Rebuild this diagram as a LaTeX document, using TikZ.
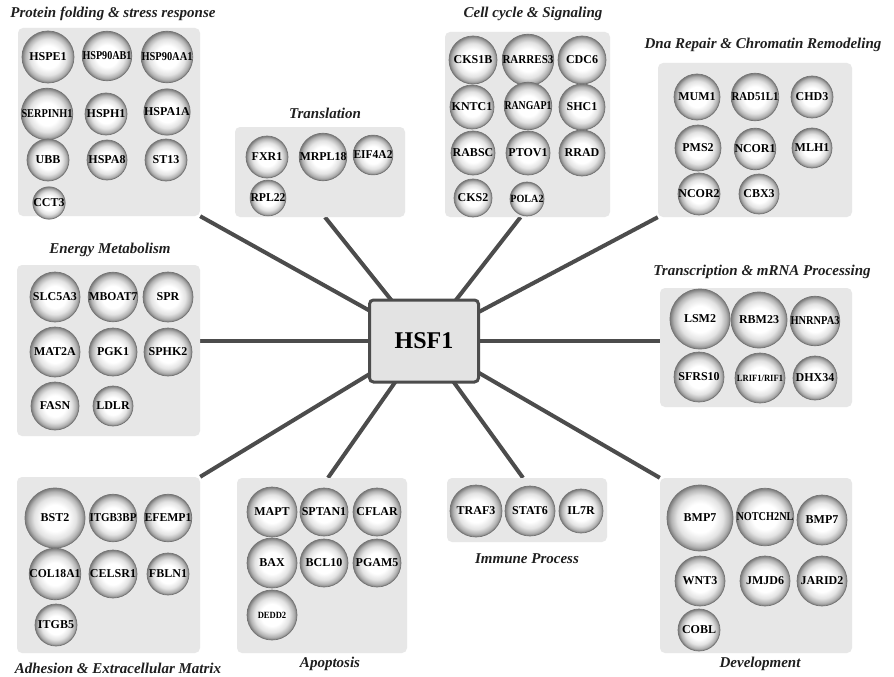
\documentclass[tikz,border=0pt]{standalone}
\usepackage{fontspec}
\setmainfont{Liberation Serif}
\usetikzlibrary{calc,backgrounds}

% soft sphere shading for the gene discs (the disc rim sits at 25bp)
\pgfdeclareradialshading{genesphere}{\pgfpoint{0bp}{0bp}}{%
  color(0bp)=(white); color(11bp)=(white); color(17.5bp)=(black!11);
  color(22bp)=(black!30); color(25bp)=(black!52); color(50bp)=(black!52)}

\definecolor{panelgray}{HTML}{E7E7E7}
\definecolor{wire}{HTML}{4C4C4C}

% squeeze a label horizontally when it is wider than #1
\newdimen\labmax
\newcommand\fitlab[2]{\labmax=\dimexpr#1\relax\sbox0{#2}%
  \ifdim\wd0>\labmax\resizebox{\labmax}{\height}{#2}\else\usebox0\fi}

\newcommand\genefont{\fontsize{12}{12}\selectfont\bfseries}
% \genecircle[opts]{name}{x}{y}{radius}{label}
\newcommand\genecircle[6][]{%
  \node[genenode, minimum size=2*#5pt, #1] (#2) at (#3,#4) {\fitlab{#5pt*2+1pt}{#6}};}

\tikzset{
  genenode/.style={circle, draw=black!55, line width=0.7pt, shading=genesphere,
    inner sep=0pt, text=black, font=\genefont},
  panel/.style={fill=panelgray, rounded corners=5pt, inner sep=0pt, draw=none},
  grouptitle/.style={font=\fontsize{15}{15}\selectfont\bfseries\itshape, text=black!88, inner sep=0pt},
  wireline/.style={draw=wire, line width=4pt},
  hub/.style={draw=wire, line width=3pt, fill=black!11, rounded corners=4pt,
    minimum width=109pt, minimum height=82pt, font=\fontsize{24}{24}\selectfont\bfseries}
}

\begin{document}
\begin{tikzpicture}[x=1pt, y=-1pt]
\path[use as bounding box] (0,0) rectangle (894,677);

% ---- group panels ----
\node[panel, minimum width=182pt, minimum height=188pt] (pf) at (109,122) {};
\node[panel, minimum width=170pt, minimum height=90pt]  (tl) at (320,172) {};
\node[panel, minimum width=165pt, minimum height=185pt] (cc) at (527.5,124.5) {};
\node[panel, minimum width=194pt, minimum height=154pt] (dn) at (755,140) {};
\node[panel, minimum width=183pt, minimum height=171pt] (en) at (108.5,350.5) {};
\node[panel, minimum width=192pt, minimum height=119pt] (tx) at (756,347.5) {};
\node[panel, minimum width=183pt, minimum height=176pt] (ad) at (108.5,565) {};
\node[panel, minimum width=170pt, minimum height=175pt] (ap) at (322,565.5) {};
\node[panel, minimum width=160pt, minimum height=64pt]  (im) at (527,510) {};
\node[panel, minimum width=192pt, minimum height=175pt] (dv) at (756,565.5) {};

% ---- group titles ----
\node[grouptitle] (pft) at (113,14)  {Protein folding \& stress response};
\node[grouptitle] (tlt) at (325,113) {Translation};
\node[grouptitle] (cct) at (533,14)  {Cell cycle \& Signaling};
\node[grouptitle] (dnt) at (763,45)  {Dna Repair \& Chromatin Remodeling};
\node[grouptitle] (ent) at (110,250) {Energy Metabolism};
\node[grouptitle] (txt) at (762,272) {Transcription \& mRNA Processing};
\node[grouptitle] (adt) at (118,668) {Adhesion \& Extracellular Matrix};
\node[grouptitle] (apt) at (330,664) {Apoptosis};
\node[grouptitle] (imt) at (527,559) {Immune Process};
\node[grouptitle] (dvt) at (760,664) {Development};

% ---- central hub ----
\node[hub] (hsf) at (424,341) {HSF1};

% ---- protein folding & stress response ----
\genecircle{hspe1}{48}{57}{26}{HSPE1}
\genecircle{hsp90ab1}{107}{56}{24}{HSP90AB1}
\genecircle{hsp90aa1}{167}{57}{25}{HSP90AA1}
\genecircle{serpinh1}{47}{114}{25}{SERPINH1}
\genecircle{hsph1}{106}{114}{21}{HSPH1}
\genecircle{hspa1a}{167}{112}{23}{HSPA1A}
\genecircle{ubb}{48}{160}{21}{UBB}
\genecircle{hspa8}{107}{160}{20}{HSPA8}
\genecircle{st13}{166}{160}{21}{ST13}
\genecircle{cct3}{49}{203}{16}{CCT3}

% ---- translation ----
\genecircle{fxr1}{267}{157}{21}{FXR1}
\genecircle{mrpl18}{323}{157}{23}{MRPL18}
\genecircle{eif4a2}{373}{155}{19}{EIF4A2}
\genecircle{rpl22}{268}{198}{17}{RPL22}

% ---- cell cycle & signaling ----
\genecircle{cks1b}{473}{60}{24}{CKS1B}
\genecircle{rarres3}{528}{60}{25}{RARRES3}
\genecircle{cdc6}{582}{60}{24}{CDC6}
\genecircle{kntc1}{472}{107}{22}{KNTC1}
\genecircle{rangap1}{528}{106}{23}{RANGAP1}
\genecircle{shc1}{582}{107}{23}{SHC1}
\genecircle{rabsc}{473}{153}{22}{RABSC}
\genecircle{ptov1}{528}{153}{22}{PTOV1}
\genecircle{rrad}{582}{153}{23}{RRAD}
\genecircle{cks2}{473}{198}{19}{CKS2}
\node[genenode, minimum size=31pt, font=\fontsize{11}{11}\selectfont\bfseries] (pola2) at (527,199) {\scalebox{0.92}[1]{POLA2}};

% ---- DNA repair & chromatin remodeling ----
\genecircle{mum1}{697}{97}{23}{MUM1}
\genecircle{rad51l1}{755}{97}{23}{RAD51L1}
\genecircle{chd3}{812}{97}{21}{CHD3}
\genecircle{pms2}{698}{148}{23}{PMS2}
\genecircle{ncor1}{755}{149}{20}{NCOR1}
\genecircle{mlh1}{812}{148}{20}{MLH1}
\genecircle{ncor2}{699}{194}{21}{NCOR2}
\genecircle{cbx3}{759}{194}{20}{CBX3}

% ---- energy metabolism ----
\genecircle{slc5a3}{55}{297}{25}{SLC5A3}
\genecircle{mboat7}{113}{297}{24}{MBOAT7}
\genecircle{spr}{168}{297}{25}{SPR}
\genecircle{mat2a}{55}{352}{25}{MAT2A}
\genecircle{pgk1}{113}{352}{24}{PGK1}
\genecircle{sphk2}{168}{352}{24}{SPHK2}
\genecircle{fasn}{55}{406}{24}{FASN}
\genecircle{ldlr}{113}{406}{20}{LDLR}

% ---- transcription & mRNA processing ----
\genecircle{lsm2}{700}{319}{30}{LSM2}
\genecircle{rbm23}{759}{320}{28}{RBM23}
\genecircle{hnrnpa3}{815}{321}{24}{HNRNPA3}
\genecircle{sfrs10}{699}{377}{25}{SFRS10}
\node[genenode, minimum size=50pt, font=\fontsize{9.5}{9.5}\selectfont\bfseries] (lrif1) at (760,378) {\scalebox{0.9}[1]{LRIF1/RIF1}};
\genecircle{dhx34}{815}{378}{22}{DHX34}

% ---- adhesion & extracellular matrix ----
\genecircle{bst2}{55}{518}{30}{BST2}
\genecircle{itgb3bp}{113}{518}{23}{ITGB3BP}
\genecircle{efemp1}{168}{518}{23}{EFEMP1}
\genecircle{col18a1}{55}{574}{25}{COL18A1}
\genecircle{celsr1}{113}{574}{24}{CELSR1}
\genecircle{fbln1}{168}{574}{21}{FBLN1}
\genecircle{itgb5}{56}{625}{21}{ITGB5}

% ---- apoptosis ----
\genecircle{mapt}{272}{512}{25}{MAPT}
\genecircle{sptan1}{324}{512}{24}{SPTAN1}
\genecircle{cflar}{377}{512}{24}{CFLAR}
\genecircle{bax}{272}{563}{25}{BAX}
\genecircle{bcl10}{324}{563}{24}{BCL10}
\genecircle{pgam5}{377}{563}{24}{PGAM5}
\node[genenode, minimum size=50pt, font=\fontsize{9.5}{9.5}\selectfont\bfseries] (dedd2) at (272,615) {\scalebox{0.9}[1]{DEDD2}};

% ---- immune process ----
\genecircle{traf3}{476}{511}{26}{TRAF3}
\genecircle{stat6}{530}{511}{25}{STAT6}
\genecircle{il7r}{581}{511}{22}{IL7R}

% ---- development ----
\genecircle{bmp7a}{700}{518}{33}{BMP7}
\genecircle{notch2nl}{765}{517}{28}{NOTCH2NL}
\genecircle{bmp7b}{822}{520}{25}{BMP7}
\genecircle{wnt3}{700}{581}{25}{WNT3}
\genecircle{jmjd6}{765}{581}{25}{JMJD6}
\genecircle{jarid2}{822}{581}{25}{JARID2}
\genecircle{cobl}{699}{630}{21}{COBL}

% ---- white page and spokes from the hub to every group ----
\begin{scope}[on background layer]
  \fill[white] (0,0) rectangle (894,677);
  \draw[wireline] (hsf.center) -- (pf.south east);
  \draw[wireline] (hsf.center) -- ($(tl.south)+(5,0)$);
  \draw[wireline] (hsf.center) -- ($(cc.south)+(-7,0)$);
  \draw[wireline] (hsf.center) -- (dn.south west);
  \draw[wireline] (hsf.center) -- (hsf.center -| en.east);
  \draw[wireline] (hsf.center) -- (hsf.center -| tx.west);
  \draw[wireline] (hsf.center) -- (ad.north east);
  \draw[wireline] (hsf.center) -- ($(ap.north)+(6,0)$);
  \draw[wireline] (hsf.center) -- ($(im.north)+(-4,0)$);
  \draw[wireline] (hsf.center) -- (dv.north west);
\end{scope}
\end{tikzpicture}
\end{document}
